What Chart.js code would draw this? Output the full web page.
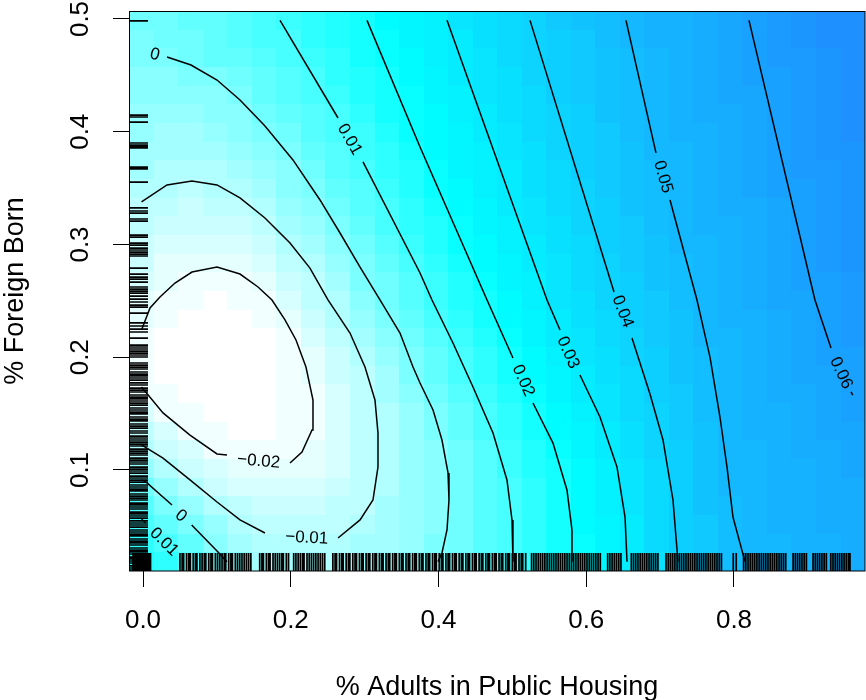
<!DOCTYPE html>
<html>
<head>
<meta charset="utf-8">
<script src="https://cdn.jsdelivr.net/npm/chart.js@4/dist/chart.umd.min.js"></script>
<style>html,body{margin:0;padding:0;background:#fff;}canvas{display:block;}</style>
</head>
<body>
<canvas id="c" width="866" height="700"></canvas>
<script>
// ---------- axes ----------
const xTicks = [0, 0.2, 0.4, 0.6, 0.8];
const xTickLabels = ['0.0', '0.2', '0.4', '0.6', '0.8'];
const yTicks = [0.1, 0.2, 0.3, 0.4, 0.5];
const yTickLabels = ['0.1', '0.2', '0.3', '0.4', '0.5'];
const xTitle = '% Adults in Public Housing';
const yTitle = '% Foreign Born';

// ---------- grid of the image (cell centres) ----------
const xCenters = [-0.002, 0.0312, 0.0644, 0.0976, 0.1308, 0.164, 0.1972, 0.2304, 0.2636, 0.2968, 0.33, 0.3632, 0.3964, 0.4296, 0.4628, 0.496, 0.5292, 0.5624, 0.5956, 0.6288, 0.662, 0.6952, 0.7284, 0.7616, 0.7948, 0.828, 0.8612, 0.8944, 0.9276, 0.9608];
const yCenters = [0.0187, 0.0353, 0.0518, 0.0684, 0.0849, 0.1015, 0.118, 0.1346, 0.1511, 0.1677, 0.1843, 0.2008, 0.2174, 0.2339, 0.2505, 0.267, 0.2836, 0.3001, 0.3167, 0.3333, 0.3498, 0.3664, 0.3829, 0.3995, 0.416, 0.4326, 0.4491, 0.4657, 0.4823, 0.4988];

// predicted values, one row per y centre (bottom to top)
const z00 = [0.017, 0.0132, 0.0078, 0.0024, -0.0025, -0.0058, -0.0071, -0.0078, -0.0081, -0.007, -0.0051, -0.0029, -0.0002, 0.0031, 0.0063, 0.0096, 0.0136, 0.0178, 0.022, 0.0265, 0.031, 0.0358, 0.0404, 0.0441, 0.0477, 0.0505, 0.0517, 0.0529, 0.0541, 0.0554];
const z01 = [0.0135, 0.0093, 0.0038, -0.0025, -0.0058, -0.008, -0.0092, -0.0093, -0.0088, -0.0075, -0.0058, -0.0035, -0.0009, 0.0024, 0.006, 0.0096, 0.0136, 0.0178, 0.022, 0.0265, 0.0312, 0.036, 0.0407, 0.0446, 0.0484, 0.0507, 0.0519, 0.0531, 0.0544, 0.0556];
const z02 = [0.0103, 0.0053, -0.0002, -0.0045, -0.0088, -0.0112, -0.0118, -0.0118, -0.011, -0.0091, -0.0065, -0.0038, -0.0012, 0.0021, 0.0059, 0.0096, 0.0137, 0.0179, 0.0222, 0.0267, 0.0313, 0.0363, 0.041, 0.0451, 0.0491, 0.051, 0.0522, 0.0534, 0.0546, 0.0559];
const z03 = [0.0065, 0.0009, -0.0043, -0.0091, -0.0124, -0.0138, -0.0143, -0.0134, -0.0119, -0.0104, -0.0077, -0.0046, -0.0016, 0.002, 0.006, 0.0099, 0.0141, 0.0183, 0.0226, 0.0271, 0.0318, 0.0366, 0.0413, 0.0455, 0.0497, 0.0512, 0.0525, 0.0538, 0.0551, 0.0564];
const z04 = [0.0015, -0.0036, -0.0088, -0.0131, -0.0153, -0.0163, -0.0168, -0.0155, -0.0133, -0.0111, -0.0083, -0.005, -0.0016, 0.0021, 0.0062, 0.0103, 0.0145, 0.0187, 0.0232, 0.0277, 0.0323, 0.0372, 0.0417, 0.0459, 0.05, 0.0514, 0.0528, 0.0541, 0.0555, 0.0568];
const z05 = [-0.0035, -0.0084, -0.013, -0.017, -0.0182, -0.0188, -0.0194, -0.0183, -0.0155, -0.0118, -0.0086, -0.0051, -0.0015, 0.0025, 0.0068, 0.0111, 0.0154, 0.0197, 0.024, 0.0283, 0.033, 0.0378, 0.0422, 0.0464, 0.0502, 0.0516, 0.053, 0.0545, 0.0559, 0.0573];
const z06 = [-0.0088, -0.0128, -0.0172, -0.0203, -0.0205, -0.0206, -0.0204, -0.0185, -0.0153, -0.012, -0.0086, -0.0048, -0.0011, 0.0032, 0.0077, 0.0121, 0.0164, 0.0207, 0.0251, 0.0294, 0.0339, 0.0385, 0.0427, 0.0468, 0.0503, 0.0519, 0.0534, 0.055, 0.0565, 0.058];
const z07 = [-0.0125, -0.017, -0.0204, -0.0218, -0.0223, -0.0223, -0.0212, -0.0196, -0.0159, -0.0122, -0.0084, -0.0044, -0.0004, 0.0041, 0.0087, 0.0133, 0.0177, 0.0221, 0.0263, 0.0305, 0.0349, 0.0393, 0.0433, 0.0473, 0.0505, 0.0522, 0.0538, 0.0554, 0.057, 0.0586];
const z08 = [-0.0157, -0.0203, -0.0218, -0.023, -0.0232, -0.0228, -0.0215, -0.0197, -0.0159, -0.012, -0.008, -0.0037, 0.0006, 0.0055, 0.0103, 0.0149, 0.0194, 0.0235, 0.0276, 0.0318, 0.036, 0.0402, 0.044, 0.0478, 0.0508, 0.0525, 0.0543, 0.056, 0.0578, 0.0595];
const z09 = [-0.0197, -0.0218, -0.0233, -0.024, -0.024, -0.0232, -0.0218, -0.0196, -0.0156, -0.0116, -0.0072, -0.0025, 0.0023, 0.0071, 0.0118, 0.0165, 0.0209, 0.025, 0.0291, 0.0331, 0.0371, 0.041, 0.0447, 0.0484, 0.051, 0.0528, 0.0546, 0.0564, 0.0582, 0.06];
const z10 = [-0.0207, -0.0227, -0.0238, -0.0242, -0.024, -0.0231, -0.0216, -0.0189, -0.0148, -0.0107, -0.0059, -0.0009, 0.004, 0.0088, 0.0134, 0.018, 0.0224, 0.0265, 0.0305, 0.0343, 0.0381, 0.0418, 0.0454, 0.0489, 0.0513, 0.0532, 0.0551, 0.0569, 0.0588, 0.0607];
const z11 = [-0.0208, -0.0226, -0.0236, -0.024, -0.0238, -0.0228, -0.0212, -0.018, -0.0137, -0.0094, -0.0043, 0.0007, 0.0055, 0.0104, 0.015, 0.0196, 0.0237, 0.0278, 0.0318, 0.0355, 0.0391, 0.0426, 0.046, 0.0494, 0.0516, 0.0536, 0.0555, 0.0575, 0.0594, 0.0614];
const z12 = [-0.0204, -0.022, -0.023, -0.0235, -0.0233, -0.0223, -0.0203, -0.0156, -0.0123, -0.0075, -0.0028, 0.0022, 0.0072, 0.012, 0.0166, 0.0211, 0.0252, 0.0293, 0.0329, 0.0365, 0.0401, 0.0434, 0.0467, 0.05, 0.052, 0.054, 0.056, 0.058, 0.06, 0.062];
const z13 = [-0.0193, -0.0215, -0.0226, -0.023, -0.0225, -0.0215, -0.0189, -0.014, -0.0102, -0.0053, -0.0007, 0.0042, 0.0091, 0.0137, 0.0182, 0.0224, 0.0265, 0.0306, 0.0341, 0.0377, 0.0411, 0.0443, 0.0474, 0.0504, 0.0524, 0.0544, 0.0565, 0.0585, 0.0606, 0.0626];
const z14 = [-0.0178, -0.0207, -0.0218, -0.0222, -0.0218, -0.0205, -0.0166, -0.0121, -0.008, -0.0031, 0.0015, 0.0062, 0.0108, 0.0153, 0.0197, 0.0238, 0.0279, 0.0317, 0.0352, 0.0387, 0.0419, 0.045, 0.048, 0.0507, 0.0528, 0.0549, 0.0569, 0.059, 0.0611, 0.0632];
const z15 = [-0.0163, -0.0191, -0.0206, -0.0209, -0.0204, -0.0183, -0.0144, -0.0105, -0.0058, -0.001, 0.0035, 0.0079, 0.0123, 0.0168, 0.0211, 0.0251, 0.029, 0.0326, 0.0361, 0.0396, 0.0426, 0.0457, 0.0487, 0.0512, 0.0532, 0.0553, 0.0573, 0.0594, 0.0614, 0.0635];
const z16 = [-0.0148, -0.0174, -0.0189, -0.0194, -0.0184, -0.0158, -0.0123, -0.0083, -0.0036, 0.001, 0.0053, 0.0096, 0.0139, 0.0183, 0.0224, 0.0263, 0.0301, 0.0335, 0.037, 0.0403, 0.0433, 0.0463, 0.0493, 0.0516, 0.0536, 0.0557, 0.0577, 0.0598, 0.0618, 0.0639];
const z17 = [-0.0133, -0.0156, -0.0168, -0.0171, -0.0159, -0.0133, -0.01, -0.0059, -0.0014, 0.0029, 0.0071, 0.0113, 0.0155, 0.0198, 0.0236, 0.0274, 0.031, 0.0344, 0.0378, 0.041, 0.044, 0.047, 0.0499, 0.052, 0.054, 0.0561, 0.0581, 0.0601, 0.0621, 0.0642];
const z18 = [-0.0119, -0.0138, -0.0148, -0.0148, -0.0134, -0.0108, -0.0075, -0.0036, 0.0006, 0.0047, 0.0087, 0.0129, 0.017, 0.021, 0.0247, 0.0285, 0.0319, 0.0353, 0.0386, 0.0417, 0.0447, 0.0476, 0.0504, 0.0524, 0.0544, 0.0565, 0.0585, 0.0605, 0.0625, 0.0645];
const z19 = [-0.0104, -0.012, -0.0127, -0.0126, -0.011, -0.0083, -0.0052, -0.0015, 0.0024, 0.0064, 0.0103, 0.0144, 0.0184, 0.0222, 0.0259, 0.0295, 0.0328, 0.0361, 0.0394, 0.0424, 0.0453, 0.0483, 0.0508, 0.0528, 0.0548, 0.0568, 0.0588, 0.0609, 0.0629, 0.0649];
const z20 = [-0.0091, -0.0103, -0.0107, -0.0103, -0.0083, -0.0058, -0.003, 0.0004, 0.0042, 0.008, 0.0119, 0.0158, 0.0198, 0.0234, 0.0269, 0.0304, 0.0337, 0.037, 0.0402, 0.0431, 0.046, 0.0489, 0.0512, 0.0532, 0.0552, 0.0572, 0.0592, 0.0612, 0.0632, 0.0652];
const z21 = [-0.0078, -0.0087, -0.0089, -0.0084, -0.0069, -0.0046, -0.0013, 0.0023, 0.0059, 0.0095, 0.0133, 0.0172, 0.021, 0.0245, 0.0279, 0.0313, 0.0345, 0.0377, 0.0409, 0.0437, 0.0466, 0.0495, 0.0517, 0.0537, 0.0556, 0.0576, 0.0596, 0.0616, 0.0635, 0.0655];
const z22 = [-0.0066, -0.0073, -0.0073, -0.0067, -0.005, -0.0026, 0.0007, 0.0041, 0.0075, 0.0111, 0.0148, 0.0186, 0.0221, 0.0255, 0.0289, 0.0322, 0.0354, 0.0385, 0.0415, 0.0444, 0.0473, 0.0501, 0.0521, 0.054, 0.056, 0.058, 0.06, 0.0619, 0.0639, 0.0659];
const z23 = [-0.0053, -0.0058, -0.0057, -0.0049, -0.0031, -0.0005, 0.0027, 0.0059, 0.0091, 0.0126, 0.0162, 0.0198, 0.0231, 0.0265, 0.0298, 0.033, 0.0361, 0.0393, 0.0422, 0.045, 0.0478, 0.0504, 0.0524, 0.0544, 0.0563, 0.0583, 0.0603, 0.0623, 0.0643, 0.0663];
const z24 = [-0.0041, -0.0043, -0.0041, -0.0031, -0.0012, 0.0016, 0.0046, 0.0076, 0.0105, 0.014, 0.0175, 0.0209, 0.0242, 0.0275, 0.0307, 0.0338, 0.0369, 0.04, 0.0428, 0.0456, 0.0483, 0.0508, 0.0527, 0.0547, 0.0567, 0.0587, 0.0606, 0.0626, 0.0646, 0.0666];
const z25 = [-0.0028, -0.0029, -0.0025, -0.0013, 0.0009, 0.0036, 0.0063, 0.009, 0.012, 0.0153, 0.0186, 0.0219, 0.0251, 0.0284, 0.0315, 0.0346, 0.0376, 0.0407, 0.0434, 0.0461, 0.0488, 0.0511, 0.0531, 0.0551, 0.0571, 0.059, 0.061, 0.063, 0.065, 0.067];
const z26 = [-0.0015, -0.0014, -0.0008, 0.0008, 0.0031, 0.0055, 0.0078, 0.0102, 0.0134, 0.0166, 0.0197, 0.0229, 0.0261, 0.0293, 0.0324, 0.0354, 0.0385, 0.0413, 0.044, 0.0467, 0.0493, 0.0515, 0.0535, 0.0554, 0.0574, 0.0594, 0.0614, 0.0634, 0.0654, 0.0674];
const z27 = [-0.0003, 0.0003, 0.002, 0.0038, 0.0056, 0.0074, 0.0092, 0.0116, 0.0146, 0.0177, 0.0207, 0.0239, 0.027, 0.0301, 0.0331, 0.0362, 0.0392, 0.0419, 0.0445, 0.0472, 0.0498, 0.0518, 0.0538, 0.0558, 0.0577, 0.0597, 0.0617, 0.0637, 0.0657, 0.0677];
const z28 = [0.001, 0.0016, 0.0026, 0.0042, 0.0065, 0.0086, 0.01, 0.0129, 0.0158, 0.0187, 0.0217, 0.0248, 0.0279, 0.031, 0.0339, 0.0369, 0.0399, 0.0425, 0.0451, 0.0477, 0.0502, 0.0522, 0.0542, 0.0561, 0.0581, 0.0601, 0.0621, 0.0641, 0.0661, 0.0681];
const z29 = [0.002, 0.003, 0.0042, 0.0058, 0.0076, 0.0092, 0.0112, 0.014, 0.0169, 0.0197, 0.0227, 0.0258, 0.0288, 0.0318, 0.0347, 0.0376, 0.0405, 0.0431, 0.0456, 0.0481, 0.0505, 0.0525, 0.0545, 0.0565, 0.0585, 0.0605, 0.0625, 0.0644, 0.0664, 0.0684];
const zRows = [z00, z01, z02, z03, z04, z05, z06, z07, z08, z09, z10, z11, z12, z13, z14, z15, z16, z17, z18, z19, z20, z21, z22, z23, z24, z25, z26, z27, z28, z29];

// ---------- contour lines (segments broken where the labels sit) ----------
const contourM002 = [
  [[-0.002,0.1736],[0.0271,0.1506],[0.0636,0.131],[0.1002,0.1142],[0.1137,0.1133]],
  [[0.199,0.1062],[0.2152,0.116],[0.2288,0.1355],[0.2301,0.1621],[0.2206,0.1913],[0.2071,0.2153],[0.1922,0.2331],[0.1746,0.2508],[0.1557,0.2623],[0.1313,0.2738],[0.1002,0.28],[0.0663,0.2756],[0.0433,0.2658],[0.023,0.2534],[0.0095,0.2437],[-0.002,0.2242]]
];
const contourM001 = [
  [[-0.002,0.3377],[0.0325,0.3528],[0.0663,0.3563],[0.1002,0.3528],[0.1313,0.3413],[0.1651,0.3235],[0.199,0.3013],[0.226,0.2791],[0.2504,0.2508],[0.2802,0.2215],[0.3005,0.1913],[0.314,0.1621],[0.3181,0.1328],[0.3181,0.1027],[0.3113,0.0734],[0.2938,0.0557],[0.264,0.0397]],
  [[0.1651,0.0441],[0.1313,0.0557],[0.1002,0.0716],[0.0636,0.0912],[0.0271,0.1106],[-0.002,0.1222]]
];
const contour000 = [
  [[0.0325,0.4663],[0.065,0.4592],[0.1002,0.4459],[0.1313,0.4282],[0.1651,0.4051],[0.203,0.375],[0.2396,0.3395],[0.2667,0.3102],[0.2938,0.28],[0.3208,0.2508],[0.3479,0.2215],[0.3655,0.1913],[0.375,0.1772],[0.3926,0.1532],[0.4047,0.1266],[0.4129,0.0974],[0.4142,0.0734],[0.4115,0.0468],[0.4047,0.0264],[0.3993,0.0187]],
  [[-0.002,0.0912],[0.0054,0.0885],[0.0393,0.069]],
  [[0.0659,0.0512],[0.1015,0.0273],[0.1137,0.0187]]
];
const contour001 = [
  [[-0.002,0.0565],[0.0036,0.053]],
  [[0.1855,0.4988],[0.264,0.4122]],
  [[0.2978,0.3732],[0.375,0.2747],[0.3912,0.2508],[0.4196,0.2126],[0.4467,0.1736],[0.4738,0.1328],[0.4927,0.0912],[0.4995,0.0557],[0.5008,0.0264],[0.5008,0.0187]]
];
const contour002 = [
  [[0.3032,0.4988],[0.375,0.3865],[0.4657,0.2508],[0.5008,0.1993]],
  [[0.5279,0.1594],[0.555,0.1239],[0.5739,0.0823],[0.5807,0.0468],[0.5807,0.0187]]
];
const contour003 = [
  [[0.4115,0.4988],[0.5469,0.2508],[0.5645,0.2242]],
  [[0.5915,0.1843],[0.6186,0.147],[0.6416,0.1027],[0.6525,0.0583],[0.6552,0.0187]]
];
const contour004 = [
  [[0.5239,0.4988],[0.6376,0.2579]],
  [[0.6619,0.2171],[0.6863,0.1674],[0.7039,0.1266],[0.7174,0.0734],[0.7242,0.0187]]
];
const contour005 = [
  [[0.6538,0.4988],[0.6944,0.3812]],
  [[0.7134,0.3395],[0.7499,0.2508],[0.7675,0.2002],[0.781,0.147],[0.7905,0.1027],[0.7986,0.0583],[0.8149,0.0187]]
];
const contour006 = [
  [[0.8203,0.4988],[0.9096,0.2508],[0.9313,0.2082]],
  [[0.9584,0.1692],[0.9608,0.1665]]
];
const contourLines = [contourM002, contourM001, contour000, contour001, contour002, contour003, contour004, contour005, contour006];

// contour labels: text, x, y, angle (deg)
const contourLabelText = ['\u22120.02', '\u22120.01', '0', '0', '0.01', '0.01', '0.02', '0.03', '0.04', '0.05', '0.06'];
const contourLabelX = [0.1566, 0.2216, 0.0158, 0.0514, 0.0284, 0.2795, 0.5147, 0.5753, 0.6491, 0.7039, 0.9449];
const contourLabelY = [0.1077, 0.0397, 0.4683, 0.0592, 0.0361, 0.3931, 0.1792, 0.2042, 0.2406, 0.3599, 0.186];
const contourLabelAngle = [5, 3, 15, 40, 45, 60, 66, 66, 69, 74, 65];

// ---------- rug (observations) ----------
const rugX = [-0.0135,-0.0118,-0.0101,-0.0084,-0.0068,-0.0051,-0.0034,-0.0017,0.0,0.0017,0.0034,0.0051,0.0068,0.0085,0.0102,
0.050,0.053,0.055,0.059,0.062,0.064,0.068,0.071,0.073,0.077,0.080,0.083,0.085,0.089,0.092,0.094,0.098,0.101,0.104,0.107,0.110,0.112,0.116,0.119,0.121,0.125,0.128,0.131,0.134,0.137,0.140,0.143,0.146,
0.158,0.161,0.163,0.167,0.170,0.172,0.176,0.179,0.182,0.185,0.188,0.190,0.194,0.197,
0.204,0.207,0.210,0.213,0.216,0.218,0.222,0.225,0.228,0.231,0.234,0.237,0.240,0.243,0.246,
0.257,0.260,0.262,0.266,0.269,0.271,0.275,0.278,0.280,0.284,0.287,0.289,0.293,0.296,0.298,0.302,0.305,0.307,0.311,0.314,0.316,0.320,0.323,0.325,0.329,0.332,0.334,0.338,0.341,0.343,0.347,0.350,0.352,0.356,0.359,0.361,0.365,0.368,0.370,0.374,0.377,0.379,0.383,0.386,0.388,0.392,0.395,0.397,0.401,0.404,0.406,0.410,0.413,0.415,0.419,0.422,0.424,0.428,0.431,0.433,0.437,0.440,0.442,0.446,0.449,0.451,0.455,0.458,0.460,0.464,0.467,0.469,0.473,0.476,0.478,0.482,0.485,0.487,0.491,0.494,0.496,0.500,0.503,0.505,0.509,0.512,0.514,0.518,
0.526,0.529,0.532,0.535,0.538,0.541,0.544,0.547,0.550,0.553,0.556,0.559,0.562,0.565,0.568,0.571,0.574,0.577,0.580,0.583,0.586,0.589,0.592,0.595,0.598,0.601,0.604,0.607,0.610,0.613,0.616,0.619,
0.629,0.632,0.635,0.638,0.641,0.644,0.647,
0.661,0.664,0.667,0.670,0.673,0.676,0.679,0.682,0.685,0.688,0.691,0.694,0.697,
0.708,0.711,0.714,0.717,0.720,0.723,0.726,0.729,0.732,0.735,0.738,0.741,0.744,0.747,0.750,0.753,0.756,0.759,0.762,0.765,0.768,0.771,0.774,0.777,0.780,0.783,
0.799,0.803,
0.813,0.816,0.819,0.822,0.825,0.828,0.831,0.834,0.837,0.840,0.843,0.846,0.849,0.852,0.855,0.858,0.861,0.864,0.867,0.870,
0.880,0.883,0.886,0.889,0.892,0.895,0.898,
0.907,0.910,0.913,0.916,0.919,0.922,0.925,
0.931,0.934,0.937,0.940,0.943,0.946,0.949,0.952,0.955,0.957];
const rugY = [0.4983,0.4148,0.4131,0.4086,0.39,0.3882,0.3865,0.3856,0.3687,0.367,0.3554,0.3324,0.3297,0.3279,0.3226,0.3208,0.3084,0.3066,0.3013,0.2995,0.2968,0.2951,0.2933,0.2915,0.2898,0.2791,0.2738,0.2711,0.2693,0.2667,0.2623,0.2605,0.2587,0.2569,0.2543,0.2516,0.249,0.2463,0.2445,0.2392,0.2304,0.2277,0.225,0.2224,0.217,0.2108,0.2091,0.2073,0.2055,0.2037,0.202,0.2002,
0.1949,0.1931,0.1913,0.1896,0.1869,0.1851,0.1834,0.1816,0.1798,0.1772,0.1754,0.1727,0.1709,0.1692,0.1665,0.1647,0.163,0.1612,0.1594,0.1576,0.155,0.1532,0.1514,0.1497,0.147,0.1452,0.1435,0.1408,0.139,0.1372,0.1346,0.1328,0.1301,0.1284,0.1266,
0.1248,0.123,0.1213,0.1186,0.1168,0.115,0.1133,0.1106,0.1088,0.1071,0.1053,0.1026,0.1008,0.0991,0.0973,0.0946,0.0929,0.0911,0.0893,0.0867,0.0849,0.0831,0.0814,0.0787,0.0769,0.0751,0.0734,0.0707,0.069,0.0672,0.0654,0.0627,0.061,0.0592,0.0574,0.0548,0.053,0.0512,0.0494,0.0468,0.045,0.0432,0.0415,0.0388,0.037,0.0353,0.0335,0.0308,0.029,0.0273,0.0255,0.0228,0.0211,0.0193,0.0175,0.0149,0.0131,0.0113];

// ---------- drawing ----------
const FONT = '"Liberation Sans", Arial, Helvetica, sans-serif';
const N_COLORS = 40;
const allZ = zRows.flat();
const zMin = Math.min(...allZ), zMax = Math.max(...allZ);

function rampColor(v) {
  const u = Math.max(0, Math.min(1, (v - zMin) / (zMax - zMin)));
  const k = Math.min(N_COLORS - 1, Math.floor(u * N_COLORS));
  const t = k / (N_COLORS - 1);
  let r, g;
  if (t <= 0.5) { const s = t / 0.5; r = 255 * (1 - s); g = 255; }
  else { const s = (t - 0.5) / 0.5; r = 30 * s; g = 255 - 111 * s; }
  return 'rgb(' + Math.round(r) + ',' + Math.round(g) + ',255)';
}
function edges(c) {
  const e = [c[0] - (c[1] - c[0]) / 2];
  for (let k = 1; k < c.length; k++) e.push((c[k - 1] + c[k]) / 2);
  e.push(c[c.length - 1] + (c[c.length - 1] - c[c.length - 2]) / 2);
  return e;
}

const imagePlugin = {
  id: 'imagePlugin',
  beforeDatasetsDraw(chart) {
    const { ctx, chartArea: a, scales: { x, y } } = chart;
    const xe = edges(xCenters), ye = edges(yCenters);
    ctx.save();
    ctx.beginPath(); ctx.rect(a.left, a.top, a.right - a.left, a.bottom - a.top); ctx.clip();
    for (let j = 0; j < yCenters.length; j++) {
      const yb = Math.round(y.getPixelForValue(ye[j])), yt = Math.round(y.getPixelForValue(ye[j + 1]));
      for (let i = 0; i < xCenters.length; i++) {
        const xl = Math.round(x.getPixelForValue(xe[i])), xr = Math.round(x.getPixelForValue(xe[i + 1]));
        ctx.fillStyle = rampColor(zRows[j][i]);
        ctx.fillRect(xl, yt, xr - xl, yb - yt);
      }
    }
    ctx.restore();
  },
  afterDatasetsDraw(chart) {
    const { ctx, chartArea: a, scales: { x, y } } = chart;
    ctx.save();
    ctx.beginPath(); ctx.rect(a.left, a.top, a.right - a.left, a.bottom - a.top); ctx.clip();
    // rugs
    ctx.strokeStyle = '#000'; ctx.lineWidth = 1.7;
    ctx.beginPath();
    for (const v of rugX) { const px = x.getPixelForValue(v); ctx.moveTo(px, a.bottom); ctx.lineTo(px, a.bottom - 18); }
    for (const v of rugY) { const py = y.getPixelForValue(v); ctx.moveTo(a.left, py); ctx.lineTo(a.left + 19, py); }
    ctx.stroke();
    // contour labels
    ctx.fillStyle = '#000';
    ctx.font = '17px ' + FONT;
    ctx.textAlign = 'center'; ctx.textBaseline = 'middle';
    for (let k = 0; k < contourLabelText.length; k++) {
      ctx.save();
      ctx.translate(x.getPixelForValue(contourLabelX[k]), y.getPixelForValue(contourLabelY[k]));
      ctx.rotate(contourLabelAngle[k] * Math.PI / 180);
      ctx.fillText(contourLabelText[k], 0, 0);
      ctx.restore();
    }
    ctx.restore();
  },
  afterDraw(chart) {
    const { ctx, chartArea: a, scales: { y } } = chart;
    ctx.save();
    ctx.strokeStyle = '#000'; ctx.lineWidth = 1;
    ctx.strokeRect(Math.round(a.left) + 0.5, Math.round(a.top) + 0.5, Math.round(a.right - a.left) - 0.5, Math.round(a.bottom - a.top) - 0.5);
    // y tick labels, parallel to the axis
    ctx.fillStyle = '#000';
    ctx.font = '26px ' + FONT;
    ctx.textAlign = 'center'; ctx.textBaseline = 'alphabetic';
    for (let k = 0; k < yTicks.length; k++) {
      ctx.save();
      ctx.translate(a.left - 41, y.getPixelForValue(yTicks[k]));
      ctx.rotate(-Math.PI / 2);
      ctx.fillText(yTickLabels[k], 0, 0);
      ctx.restore();
    }
    ctx.restore();
  }
};

const datasets = [];
for (const lines of contourLines) {
  for (const seg of lines) {
    datasets.push({
      data: seg.map(p => ({ x: p[0], y: p[1] })),
      showLine: true, borderColor: '#000', borderWidth: 1.5,
      pointRadius: 0, pointHoverRadius: 0, fill: false, tension: 0
    });
  }
}

new Chart(document.getElementById('c'), {
  type: 'scatter',
  data: { datasets },
  options: {
    responsive: false, maintainAspectRatio: false, animation: false, devicePixelRatio: 1,
    events: [],
    layout: { padding: { left: 0, right: 1, top: 11, bottom: 0 } },
    plugins: { legend: { display: false }, tooltip: { enabled: false } },
    scales: {
      x: {
        type: 'linear', position: 'bottom',
        min: -0.018951, max: 0.977327,
        afterBuildTicks: s => { s.ticks = xTicks.map(v => ({ value: v })); },
        afterFit: s => { s.height = 129; },
        grid: { drawOnChartArea: false, drawTicks: true, tickLength: 16, color: '#000', tickColor: '#000', lineWidth: 1 },
        border: { display: false },
        ticks: { autoSkip: false, maxRotation: 0, minRotation: 0, padding: 18, color: '#000', font: { family: FONT, size: 26 },
                 callback: (v, i) => xTickLabels[i] },
        title: { display: true, text: xTitle, color: '#000', font: { family: FONT, size: 27 }, padding: { top: 0, bottom: -3.5 } }
      },
      y: {
        type: 'linear', position: 'left',
        min: 0.010421, max: 0.507095,
        afterBuildTicks: s => { s.ticks = yTicks.map(v => ({ value: v })); },
        afterFit: s => { s.width = 129; },
        grid: { drawOnChartArea: false, drawTicks: true, tickLength: 16, color: '#000', tickColor: '#000', lineWidth: 1 },
        border: { display: false },
        ticks: { display: false },
        title: { display: true, text: yTitle, color: '#000', font: { family: FONT, size: 27 }, padding: { top: -0.5, bottom: 0 } }
      }
    }
  },
  plugins: [imagePlugin]
});
</script>
</body>
</html>
